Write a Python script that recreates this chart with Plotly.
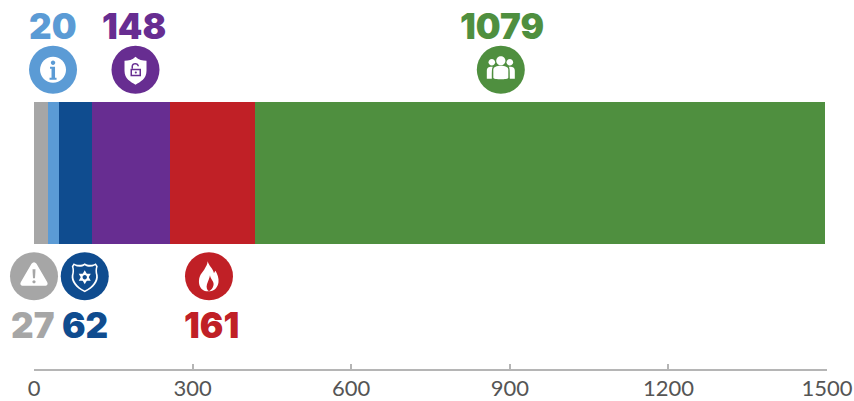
import re
import plotly.graph_objects as go

names = ["Warning", "Info", "Police", "Security", "Fire", "People"]
values = [27, 20, 62, 148, 161, 1079]
colors = ["#a6a6a6", "#5b9bd5", "#0f4c8f", "#672d91", "#c02026", "#4f8f3f"]
label_x = [0, 36, 96, 192, 331, 883]
text_x = [-3, 35, 96, 189, 335, 885]
label_side = [-1, 1, -1, 1, -1, 1]
x_ticks = [0, 300, 600, 900, 1200, 1500]

NUM_FONT = "Inter"
TICK_FONT = "Lato"
ICON_Y = 0.727
TEXT_Y_TOP = 1.037
TEXT_Y_BOT = -1.07
TW = 142.0
Y_MIN = -196 / TW
Y_MAX = 173 / TW
X_MIN, X_MAX = 0, 1500
K = 0.5523


def circle(cx, cy, r):
    k = K * r
    return (f"M{cx-r},{cy} C{cx-r},{cy-k} {cx-k},{cy-r} {cx},{cy-r} C{cx+k},{cy-r} {cx+r},{cy-k} {cx+r},{cy} "
            f"C{cx+r},{cy+k} {cx+k},{cy+r} {cx},{cy+r} C{cx-k},{cy+r} {cx-r},{cy+k} {cx-r},{cy} Z")


def poly(pts):
    return "M" + " L".join(f"{x},{y}" for x, y in pts) + " Z"


def flip(path):
    # shape paths in pixel mode count y upward; glyphs are written with y downward
    n = [0]

    def rep(m):
        n[0] += 1
        return m.group(0) if n[0] % 2 else f"{-float(m.group(0)):g}"
    return re.sub(r"-?\d+\.?\d*", rep, path)


def icon_info(c):
    return [("white", circle(0, 0, 13)),
            (c, circle(0, -7, 2.2)),
            (c, poly([(-3, -3), (2, -3), (2, 8), (3.5, 8), (3.5, 10), (-3.5, 10), (-3.5, 8), (-1.5, 8), (-1.5, -1), (-3, -1)]))]


def icon_lock(c):
    shield = "M0,-13 C3,-10 7,-9 11,-9 L11,1 C11,9 5,12 0,15 C-5,12 -11,9 -11,1 L-11,-9 C-7,-9 -3,-10 0,-13 Z"
    return [("white", shield),
            (c, poly([(-5, -1), (5.5, -1), (5.5, 6.5), (-5, 6.5)])),
            ("white", poly([(-3.5, 0.5), (4, 0.5), (4, 5), (-3.5, 5)])),
            (c, circle(0.3, 2.8, 1)),
            (c, "M-4,-1 L-4,-3.5 C-4,-8 3.5,-8 3.5,-3.5 L2,-3.5 C2,-6 -2.5,-6 -2.5,-3.5 L-2.5,-1 Z")]


def icon_people(c):
    return [("white", circle(-9, -7.5, 3.3)),
            ("white", circle(9, -7.5, 3.3)),
            ("white", "M-14,9 L-14,1 C-14,-3 -11,-3 -8,-3 C-9,-1 -9,1 -9,9 Z"),
            ("white", "M14,9 L14,1 C14,-3 11,-3 8,-3 C9,-1 9,1 9,9 Z"),
            ("white", circle(0, -9, 4.6)),
            ("white", "M-7.5,8 L-7.5,0 C-7.5,-3 -4,-4 0,-4 C4,-4 7.5,-3 7.5,0 L7.5,8 C7.5,10 -7.5,10 -7.5,8 Z")]


def icon_warn(c):
    tri = "M-2.5,-12.5 C-1,-14.5 1,-14.5 2.5,-12.5 L13,5.5 C14.5,8 13,9.5 11,9.5 L-11,9.5 C-13,9.5 -14.5,8 -13,5.5 Z"
    return [("white", tri),
            (c, poly([(-1.5, -7), (1.5, -7), (1, 2), (-1, 2)])),
            (c, circle(0, 5.5, 1.6))]


def icon_badge(c):
    outer = "M0,-13 C3,-11 8,-11 11,-13 L13,-10 C12,-7 12,-4 13,-1 C14,5 9,12 0,16 C-9,12 -14,5 -13,-1 C-12,-4 -12,-7 -13,-10 L-11,-13 C-8,-11 -3,-11 0,-13 Z"
    inner = "M0,-11 C3,-9 7,-9 10.5,-11 L11.3,-9.5 C10.5,-7 10.5,-4 11.3,-1 C12,4 8,10.5 0,14.3 C-8,10.5 -12,4 -11.3,-1 C-10.5,-4 -10.5,-7 -11.3,-9.5 L-10.5,-11 C-7,-9 -3,-9 0,-11 Z"
    star1 = poly([(0, -6), (6, 4.5), (-6, 4.5)])
    star2 = poly([(0, 8), (6, -2.5), (-6, -2.5)])
    return [("white", outer), (c, inner), ("white", star1), ("white", star2),
            (c, circle(0, 1, 2.2))]


def icon_fire(c):
    flame = ("M-1.3,-15 C0,-10 4,-8 5,-3 C5.5,-4 6,-5 6.5,-5.5 C8.5,-2 10,2 9.5,6 C9,11 5,15 1,15 "
             "L-3,15 C-8,14 -10.5,9 -10,4 C-9.5,-2 -6,-4 -4,-8 C-3,-10 -1.5,-12 -1.3,-15 Z")
    hole = "M1,-1 C1.5,3 5.5,5.5 4.5,9 C4,12 2,14 0,15 C-2,14 -3,11 -2,8 C-1,5 0.5,2 1,-1 Z"
    return [("white", flame), (c, hole)]


icons = [icon_warn, icon_info, icon_badge, icon_lock, icon_fire, icon_people]

fig = go.Figure()
for n, v, c in zip(names, values, colors):
    fig.add_trace(go.Bar(x=[v], y=[0], name=n, orientation="h", marker=dict(color=c, line=dict(width=0)),
                         width=1, showlegend=False, hoverinfo="x+name"))

fig.add_trace(go.Scatter(
    x=label_x, y=[ICON_Y * s for s in label_side], mode="markers", cliponaxis=False, showlegend=False,
    marker=dict(size=48, color=colors, line=dict(width=0)), hoverinfo="skip"))

# paper x references: the leftmost label sits outside the axis range and would otherwise be hidden
annotations = [
    dict(x=(tx - X_MIN) / (X_MAX - X_MIN), y=TEXT_Y_TOP if s > 0 else TEXT_Y_BOT, xref="paper", yref="y",
         text=str(v), showarrow=False, xanchor="center", yanchor="middle",
         font=dict(family=NUM_FONT, size=35, weight=900, color=c))
    for tx, s, v, c in zip(text_x, label_side, values, colors)
]

shapes = []
for lx, s, c, fn in zip(label_x, label_side, colors, icons):
    # paper references keep the leftmost icon from being clipped at the plot edge
    ax = (lx - X_MIN) / (X_MAX - X_MIN)
    ay = (ICON_Y * s - Y_MIN) / (Y_MAX - Y_MIN)
    for col, path in fn(c):
        shapes.append(dict(type="path", xsizemode="pixel", ysizemode="pixel", xanchor=ax, yanchor=ay,
                           xref="paper", yref="paper", path=flip(path), fillcolor=col, line=dict(width=0), layer="above"))

fig.update_layout(
    width=854, height=401, margin=dict(l=34, r=26.5, t=0, b=32, pad=0), autosize=False,
    paper_bgcolor="white", plot_bgcolor="white", barmode="stack", bargap=0, shapes=shapes, annotations=annotations,
    xaxis=dict(range=[X_MIN, X_MAX], tickvals=x_ticks, ticks="inside", ticklen=5, tickwidth=1.5, tickcolor="#b5b5b5",
               showline=True, linecolor="#b5b5b5", linewidth=2, showgrid=False, zeroline=False, automargin=False,
               ticklabelstandoff=-1, tickfont=dict(family=TICK_FONT, size=22, color="#555555")),
    yaxis=dict(range=[Y_MIN, Y_MAX], visible=False, fixedrange=True, automargin=False),
)
fig.write_html("out.html", post_script="document.body.style.margin='0';", config={"displayModeBar": False})
